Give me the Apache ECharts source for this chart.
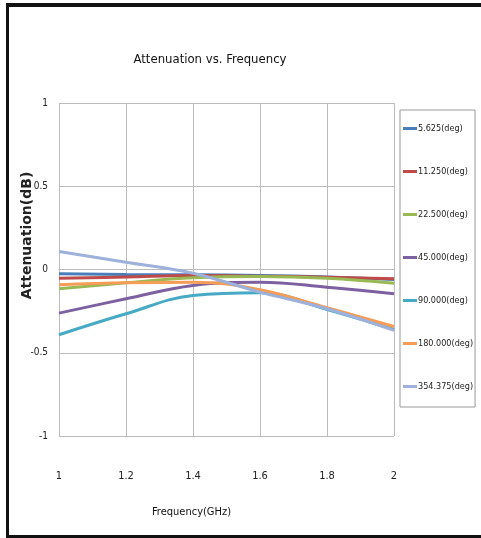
<!DOCTYPE html>
<html><head><meta charset="utf-8">
<script src="https://cdn.jsdelivr.net/npm/echarts@6/dist/echarts.min.js"></script>
<style>html,body{margin:0;padding:0;background:#fff}#c{width:481px;height:538px}</style>
</head><body><div id="c"></div>
<script>
const freq = [1, 1.2, 1.4, 1.6, 1.8, 2];
const seriesNames = ['5.625(deg)','11.250(deg)','22.500(deg)','45.000(deg)','90.000(deg)','180.000(deg)','354.375(deg)'];
const s5625  = [-0.026, -0.03, -0.032, -0.036, -0.045, -0.06];
const s11250 = [-0.052, -0.045, -0.036, -0.04, -0.046, -0.056];
const s22500 = [-0.116, -0.08, -0.05, -0.042, -0.052, -0.082];
const s45000 = [-0.262, -0.176, -0.096, -0.076, -0.106, -0.146];
const s90000 = [-0.392, -0.266, -0.156, -0.14, -0.24, -0.36];
const s180000 = [-0.092, -0.08, -0.076, -0.122, -0.23, -0.342];
const s354375 = [0.108, 0.044, -0.022, -0.136, -0.236, -0.366];
const colors = ['#4A7EBB','#BE4B48','#98B954','#7D60A0','#46AAC5','#F59D56','#9DB1DA'];
const allSeries = [s5625, s11250, s22500, s45000, s90000, s180000, s354375];
const font = '"DejaVu Sans Condensed","Liberation Sans",sans-serif';
const chart = echarts.init(document.getElementById('c'));
chart.setOption({
  animation: false,
  color: colors,
  title: { text: 'Attenuation vs. Frequency', left: 205, top: 48, textAlign: 'center',
    textStyle: { fontFamily: font, fontSize: 13, fontWeight: 'normal', color: '#111' } },
  grid: { left: 59, right: 87, top: 103, bottom: 102, outerBoundsMode: 'none', containLabel: false },
  legend: {
    orient: 'vertical', left: 400, top: 110, itemGap: 34, itemWidth: 14, itemHeight: 3,
    padding: [14, 2, 16, 3], borderColor: '#999', borderWidth: 1,
    icon: 'rect', data: seriesNames,
    textStyle: { fontFamily: font, fontSize: 9, color: '#222', padding: [0,0,0,-4] }
  },
  xAxis: {
    type: 'value', min: 1, max: 2, interval: 0.2,
    name: 'Frequency(GHz)', nameLocation: 'middle', nameGap: 71, nameMoveOverlap: false,
    nameTextStyle: { fontFamily: font, fontSize: 11, color: '#111', padding: [0, 70, 0, 0] },
    axisLine: { show: true, lineStyle: { color: '#bbb' } }, axisTick: { show: false },
    axisLabel: { fontFamily: font, fontSize: 11, color: '#222', margin: 35, formatter: v => String(+v.toFixed(1)) },
    splitLine: { show: true, lineStyle: { color: '#bbb' } }
  },
  yAxis: {
    type: 'value', min: -1, max: 1, interval: 0.5,
    name: 'Attenuation(dB)', nameLocation: 'middle', nameGap: 25, nameRotate: 90, nameMoveOverlap: false,
    nameTextStyle: { fontFamily: '"DejaVu Sans",sans-serif', fontWeight: 'bold', fontSize: 14, color: '#222', padding: [0, 0, 0, 68] },
    axisLine: { show: false }, axisTick: { show: false },
    axisLabel: { fontFamily: font, fontSize: 10, color: '#222', margin: 11, formatter: v => String(v) },
    splitLine: { show: true, lineStyle: { color: '#bbb' } }
  },
  series: allSeries.map((arr, i) => ({
    name: seriesNames[i], type: 'line', smooth: 0.4, showSymbol: false,
    lineStyle: { width: 3 },
    data: freq.map((f, j) => [f, arr[j]])
  })),
  graphic: [
    { type: 'rect', shape: { x: 6, y: 3, width: 480, height: 4 }, style: { fill: '#111' } },
    { type: 'rect', shape: { x: 6, y: 3, width: 3, height: 540 }, style: { fill: '#111' } },
    { type: 'rect', shape: { x: 6, y: 535, width: 480, height: 4 }, style: { fill: '#111' } }
  ]
});
</script></body></html>
